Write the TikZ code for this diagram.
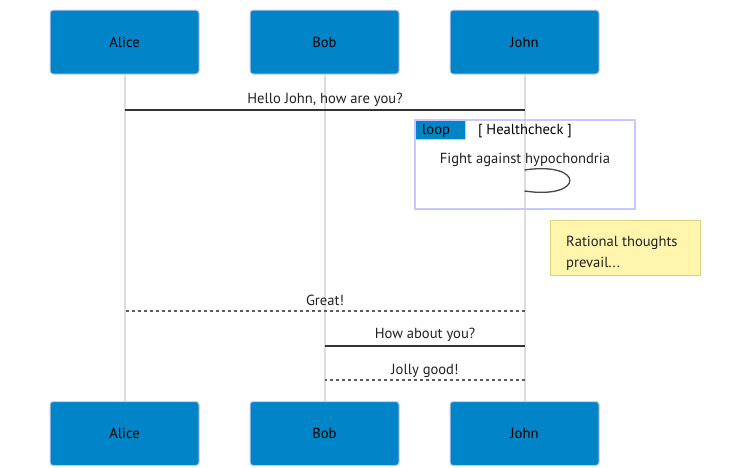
\documentclass[tikz,border=0pt]{standalone}
\usepackage{fontspec}
\setmainfont{PT Sans}
\definecolor{actorfill}{HTML}{0284C8}
\definecolor{actorline}{HTML}{C8CCF5}
\definecolor{lifeline}{HTML}{DDDDDD}
\definecolor{msgline}{HTML}{333333}
\definecolor{loopline}{HTML}{C8C8FF}
\definecolor{notefill}{HTML}{FFF5AD}
\definecolor{noteline}{HTML}{D6D27E}
\definecolor{txt}{HTML}{222222}
\begin{document}
\begin{tikzpicture}[x=1pt,y=-1pt,
  every node/.style={font=\fontsize{14.6}{17}\selectfont, text=txt},
  actor/.style={rectangle, fill=actorfill, draw=actorline, line width=1pt, rounded corners=3pt,
    minimum width=149pt, minimum height=64pt, inner sep=0pt, text=black},
  life/.style={draw=lifeline, line width=2pt},
  msg/.style={draw=msgline, line width=2pt},
  reply/.style={draw=msgline!80, line width=2pt, dash pattern=on 3pt off 3pt},
  msglabel/.style={inner sep=0pt, anchor=center}
]
\fill[white] (0,0) rectangle (750,467);
\useasboundingbox (0,0) rectangle (750,467);

% participants
\node[actor] (aliceT) at (124.5,42) {\raisebox{-1pt}{Alice}};
\node[actor] (bobT)   at (324.5,42) {\raisebox{-1pt}{Bob}};
\node[actor] (johnT)  at (524.5,42) {\raisebox{-1pt}{John}};
\node[actor] (aliceB) at (124.5,433.5) {\raisebox{-1pt}{Alice}};
\node[actor] (bobB)   at (324.5,433.5) {\raisebox{-1pt}{Bob}};
\node[actor] (johnB)  at (524.5,433.5) {\raisebox{-1pt}{John}};

% lifelines
\draw[life] (aliceT.south) -- (aliceB.north);
\draw[life] (bobT.south) -- (bobB.north);
\draw[life] (johnT.south) -- (johnB.north);

% loop frame
\draw[draw=loopline, line width=1.2pt] (415,120) rectangle (635,209);
\node[fill=actorfill, draw=loopline, line width=1pt, minimum width=50pt, minimum height=19pt, inner sep=0pt,
  anchor=north west, text=black] (looplbl) at (415,120) {};
\node[anchor=west, inner sep=0pt, text=black] (looptxt) at (422,131) {loop};
\node[msglabel, text=black] (cond) at (525,131) {[ Healthcheck ]};

% messages
\coordinate (a1) at (124.5,110); \coordinate (j1) at (524.5,110);
\node[msglabel] (m1) at (325,99.5) {Hello John, how are you?};
\draw[msg] (a1) -- (j1);

\node[msglabel] (m2) at (525,159.5) {Fight against hypochondria};
\coordinate (j2) at (524.5,170); \coordinate (j3) at (524.5,191);
\draw[draw=msgline!90, line width=1.3pt] (j2) .. controls (585,161) and (585,200) .. (j3);

% note
\node[rectangle, fill=notefill, draw=noteline, line width=1.2pt, minimum width=150pt, minimum height=55pt,
  anchor=north west] (note) at (550,220) {};
\node[anchor=north west, inner sep=0pt, align=left, font=\fontsize{14.6}{21.5}\selectfont] (notetxt) at (566,235.5) {Rational thoughts\\prevail...};

\coordinate (a4) at (124.5,311); \coordinate (j4) at (524.5,311);
\node[msglabel] (m3) at (325,300.5) {Great!};
\draw[reply] (j4) -- (a4);

\coordinate (b5) at (324.5,346); \coordinate (j5) at (524.5,346);
\node[msglabel] (m4) at (425,334.5) {How about you?};
\draw[msg] (b5) -- (j5);

\coordinate (b6) at (324.5,380); \coordinate (j6) at (524.5,380);
\node[msglabel] (m5) at (425,370.5) {Jolly good!};
\draw[reply] (j6) -- (b6);
\end{tikzpicture}
\end{document}
